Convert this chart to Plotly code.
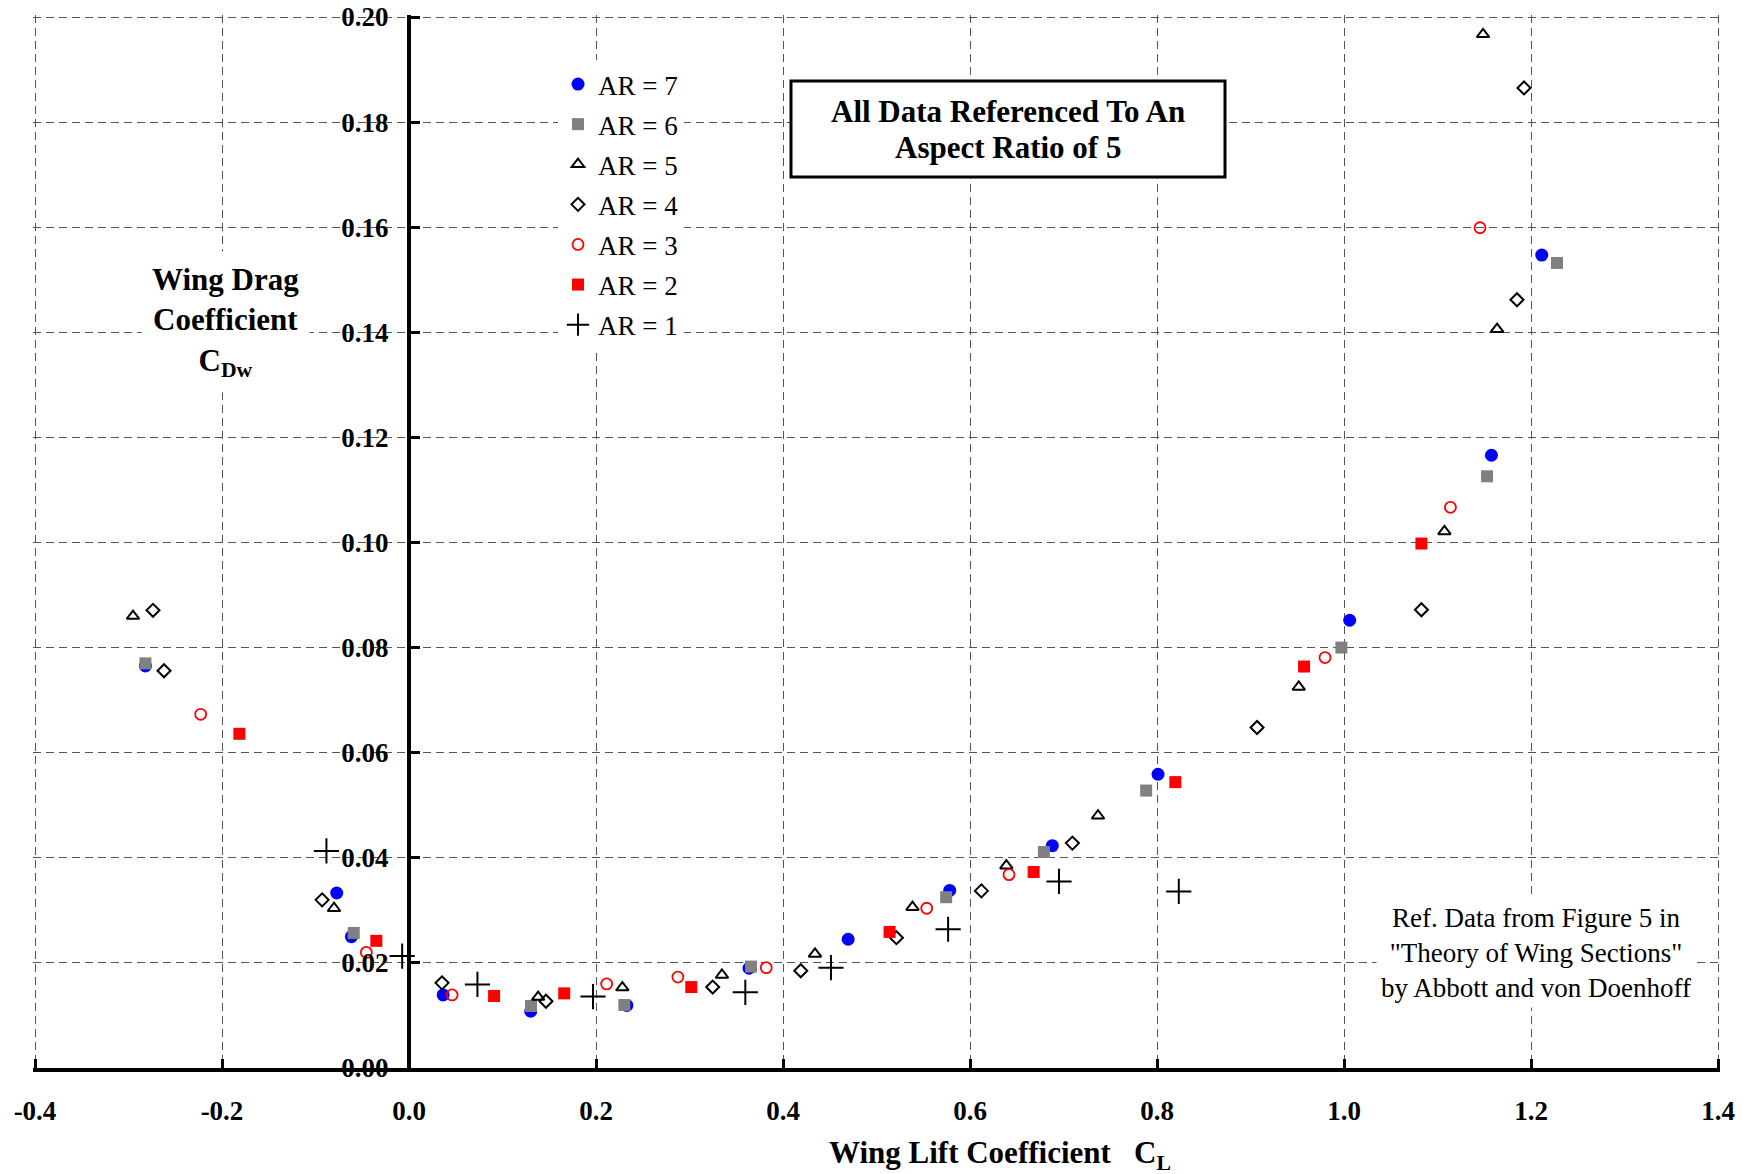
import plotly.graph_objects as go

# ---- data ----
ar7_x = [-0.2819, -0.0773, -0.0616, 0.0365, 0.1302, 0.2330, 0.3637, 0.4697, 0.5783, 0.6881, 0.8011, 1.0061, 1.1577, 1.2115]
ar7_y = [0.0765, 0.0333, 0.0250, 0.0139, 0.0108, 0.0119, 0.0190, 0.0245, 0.0338, 0.0423, 0.0559, 0.0852, 0.1166, 0.1547]

ar6_x = [-0.2819, -0.0591, 0.1305, 0.2303, 0.3658, 0.5745, 0.6790, 0.7884, 0.9972, 1.1530, 1.2278]
ar6_y = [0.0770, 0.0257, 0.0118, 0.0120, 0.0193, 0.0325, 0.0411, 0.0528, 0.0800, 0.1126, 0.1532]

ar5_x = [-0.2952, -0.0802, 0.1381, 0.2282, 0.3347, 0.4342, 0.5385, 0.6389, 0.7369, 0.9516, 1.1074, 1.1637, 1.1487]
ar5_y = [0.0860, 0.0304, 0.0135, 0.0153, 0.0177, 0.0217, 0.0306, 0.0385, 0.0480, 0.0725, 0.1021, 0.1406, 0.1967]

ar4_x = [-0.2738, -0.2620, -0.0929, 0.0353, 0.1465, 0.3248, 0.4190, 0.5213, 0.6122, 0.7095, 0.9070, 1.0828, 1.1850, 1.1925]
ar4_y = [0.0871, 0.0756, 0.0320, 0.0162, 0.0127, 0.0154, 0.0185, 0.0248, 0.0337, 0.0428, 0.0648, 0.0872, 0.1462, 0.1865]

ar3_x = [-0.2228, -0.0456, 0.0461, 0.2114, 0.2876, 0.3821, 0.5537, 0.6417, 0.9797, 1.1138, 1.1455]
ar3_y = [0.0673, 0.0220, 0.0139, 0.0160, 0.0173, 0.0191, 0.0304, 0.0368, 0.0781, 0.1067, 0.1599]

ar2_x = [-0.1814, -0.0349, 0.0910, 0.1660, 0.3019, 0.5140, 0.6681, 0.8196, 0.9573, 1.0828]
ar2_y = [0.0636, 0.0242, 0.0137, 0.0142, 0.0154, 0.0259, 0.0373, 0.0544, 0.0764, 0.0998]

ar1_x = [-0.0883, -0.0073, 0.0732, 0.1968, 0.3597, 0.4513, 0.5766, 0.6952, 0.8233]
ar1_y = [0.0413, 0.0213, 0.0159, 0.0136, 0.0144, 0.0191, 0.0264, 0.0355, 0.0336]

x_tickvals = [-0.4, -0.2, 0.0, 0.2, 0.4, 0.6, 0.8, 1.0, 1.2, 1.4]
x_ticktext = ["-0.4", "-0.2", "0.0", "0.2", "0.4", "0.6", "0.8", "1.0", "1.2", "1.4"]
y_tickvals = [0.00, 0.02, 0.04, 0.06, 0.08, 0.10, 0.12, 0.14, 0.16, 0.18, 0.20]
y_ticktext = ["0.00", "0.02", "0.04", "0.06", "0.08", "0.10", "0.12", "0.14", "0.16", "0.18", "0.20"]

series = [
    ("AR = 7", ar7_x, ar7_y, dict(symbol="circle", size=13, color="#0000FF")),
    ("AR = 6", ar6_x, ar6_y, dict(symbol="square", size=12, color="#808080")),
    ("AR = 5", ar5_x, ar5_y, dict(symbol="triangle-up-open", size=11, color="black", line=dict(width=2, color="black"))),
    ("AR = 4", ar4_x, ar4_y, dict(symbol="diamond-open", size=10, color="black", line=dict(width=2, color="black"))),
    ("AR = 3", ar3_x, ar3_y, dict(symbol="circle-open", size=11, color="#FF0000", line=dict(width=1.8, color="#FF0000"))),
    ("AR = 2", ar2_x, ar2_y, dict(symbol="square", size=12, color="#FF0000")),
    ("AR = 1", ar1_x, ar1_y, dict(symbol="cross-thin-open", size=18, color="black", line=dict(width=2, color="black"))),
]

SERIF = "Liberation Serif, Times New Roman, serif"

fig = go.Figure()
for name, xs, ys, mk in series:
    fig.add_trace(go.Scatter(x=xs, y=ys, mode="markers", name=name, marker=mk,
                             legendgroup=name))

# page body has an 8px default margin; size the figure so the plot area lands
# where the reference has it in the 1747x1174 window
OFF = 8
W, H = 1747 - OFF, 1174 - OFF
PAD = 2  # px of slack so plotly keeps the edge gridlines / ticks
X_LEFT, X_RIGHT, Y_TOP, Y_BOTTOM = 35 - PAD, 1718 + PAD, 17 - PAD, 1068  # page px
L, R, T, B = X_LEFT - OFF, (OFF + W) - X_RIGHT, Y_TOP - OFF, (OFF + H) - Y_BOTTOM
pw, ph = X_RIGHT - X_LEFT, Y_BOTTOM - Y_TOP

ex = PAD * 1.8 / 1683
ey = PAD * 0.2 / 1051
x_range = [-0.4 - ex, 1.4 + ex]
y_range = [0.0, 0.2 + ey]


def px_x(px):
    return (px - X_LEFT) / pw


def px_y(py):
    return (Y_BOTTOM - py) / ph


fig.update_layout(
    width=W, height=H, autosize=False,
    margin=dict(l=L, r=R, t=T, b=B, autoexpand=False),
    paper_bgcolor="white", plot_bgcolor="white",
    font=dict(family=SERIF, color="black"),
    showlegend=True,
    legend=dict(
        x=px_x(558), y=px_y(60), xanchor="left", yanchor="top",
        bgcolor="white", borderwidth=0,
        font=dict(family=SERIF, size=27, color="black"),
        tracegroupgap=2, itemwidth=30,
    ),
    xaxis=dict(
        range=x_range, tickvals=x_tickvals, ticktext=x_ticktext,
        automargin=False, ticklabeloverflow="allow",
        showgrid=True, gridcolor="#555555", griddash="8px,5px", gridwidth=1,
        zeroline=False, showline=True, linecolor="black", linewidth=4,
        ticks="inside", ticklen=9, tickwidth=3, tickcolor="black",
        tickfont=dict(family=SERIF, size=27, color="black", weight="bold"),
        ticklabelstandoff=16,
    ),
    yaxis=dict(
        range=y_range, tickvals=y_tickvals, ticktext=y_ticktext,
        automargin=False, ticklabeloverflow="allow",
        anchor="free", position=(0 - x_range[0]) / (x_range[1] - x_range[0]),
        showgrid=True, gridcolor="#555555", griddash="8px,5px", gridwidth=1,
        zeroline=False, showline=True, linecolor="black", linewidth=4,
        ticks="inside", ticklen=9, tickwidth=3, tickcolor="black",
        tickfont=dict(family=SERIF, size=27, color="black", weight="bold"),
        ticklabelstandoff=13,
    ),
)

ann_common = dict(xref="paper", yref="paper", showarrow=False, xanchor="center", yanchor="middle")

# boxed note
fig.add_shape(type="rect", xref="paper", yref="paper",
              x0=px_x(791), x1=px_x(1225), y0=px_y(177), y1=px_y(81),
              line=dict(color="black", width=3), fillcolor="white", layer="above")
fig.add_annotation(x=px_x(1008), y=px_y(112), text="All Data Referenced To An",
                   font=dict(family=SERIF, size=31, color="black", weight="bold"), **ann_common)
fig.add_annotation(x=px_x(1008), y=px_y(148), text="Aspect Ratio of 5",
                   font=dict(family=SERIF, size=31, color="black", weight="bold"), **ann_common)

# y axis title
fig.add_annotation(x=px_x(225), y=px_y(322),
                   text="Wing Drag<br>Coefficient<br>C<sub>Dw</sub>",
                   bgcolor="white", borderpad=10,
                   font=dict(family=SERIF, size=31, color="black", weight="bold"), **ann_common)

# x axis title
fig.add_annotation(x=px_x(1000), y=px_y(1155),
                   text="Wing Lift Coefficient\u00a0\u00a0\u00a0C<sub>L</sub>",
                   font=dict(family=SERIF, size=31, color="black", weight="bold"), **ann_common)

# reference note
fig.add_annotation(x=px_x(1536), y=px_y(953),
                   text="Ref. Data from Figure 5 in<br>\"Theory of Wing Sections\"<br>by Abbott and von Doenhoff",
                   bgcolor="white", borderpad=4,
                   font=dict(family=SERIF, size=27, color="black"), **ann_common)

fig.write_html("out.html")
